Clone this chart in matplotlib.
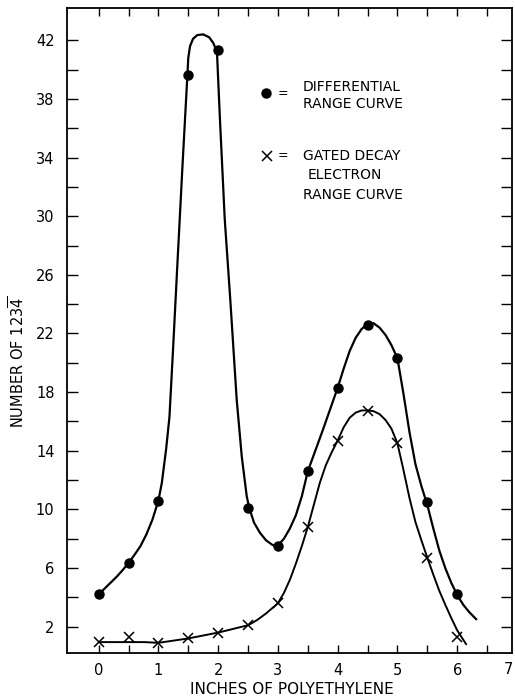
import matplotlib
matplotlib.use('Agg')
import matplotlib.pyplot as plt
import numpy as np

plt.rcParams['font.family'] = ['DejaVu Sans']
plt.rcParams['mathtext.default'] = 'regular'

inches = [0, 0.5, 1, 1.5, 2, 2.5, 3, 3.5, 4, 4.5, 5, 5.5, 6]
diff_counts = [4.2, 6.35, 10.6, 39.6, 41.3, 10.1, 7.5, 12.6, 18.3, 22.6, 20.3, 10.5, 4.2]
gated_counts = [0.95, 1.3, 0.87, 1.2, 1.6, 2.1, 3.6, 8.8, 14.7, 16.7, 14.5, 6.7, 1.3]

# hand drawn curves
diff_curve_x = [0.0, 0.1, 0.2, 0.3, 0.4, 0.5, 0.6, 0.7, 0.8, 0.9, 1.0, 1.057, 1.129, 1.185,
                1.245, 1.315, 1.40, 1.485, 1.50, 1.53, 1.58, 1.65, 1.75, 1.85, 1.92, 1.98,
                2.03, 2.11, 2.203, 2.31, 2.395, 2.478, 2.52, 2.6, 2.7, 2.8, 2.9, 2.98,
                3.1, 3.2, 3.3, 3.4, 3.5, 3.75, 4.0, 4.1, 4.2, 4.3, 4.4, 4.5, 4.6, 4.7, 4.8,
                4.9, 5.0, 5.1, 5.2, 5.3, 5.4, 5.5, 5.6, 5.7, 5.8, 5.9, 6.0, 6.1, 6.2, 6.32]
diff_curve_y = [4.2, 4.6, 5.0, 5.4, 5.85, 6.35, 6.9, 7.5, 8.3, 9.3, 10.6, 11.8, 14.1, 16.3,
                20.9, 26.5, 33.2, 39.6, 40.8, 41.6, 42.1, 42.35, 42.4, 42.2, 41.8, 41.2,
                36.6, 29.8, 24.3, 17.5, 13.6, 10.9, 10.1, 9.1, 8.4, 7.9, 7.6, 7.45,
                8.0, 8.7, 9.6, 10.9, 12.6, 15.4, 18.3, 19.6, 20.8, 21.7, 22.3, 22.65, 22.7,
                22.4, 21.9, 21.2, 20.3, 17.9, 15.3, 13.1, 11.6, 10.3, 8.7, 7.2, 6.0, 5.0,
                4.16, 3.5, 3.0, 2.5]

gated_curve_x = [0.0, 0.77, 1.0, 1.25, 1.5, 1.75, 2.0, 2.25, 2.5, 2.65, 2.8, 2.9, 3.0, 3.1,
                 3.2, 3.3, 3.4, 3.5, 3.6, 3.7, 3.8, 3.9, 4.0, 4.1, 4.2, 4.3, 4.4, 4.5, 4.6,
                 4.7, 4.8, 4.9, 5.0, 5.1, 5.2, 5.3, 5.4, 5.5, 5.6, 5.7, 5.8, 5.9, 6.0, 6.15]
gated_curve_y = [0.95, 0.95, 0.9, 1.05, 1.2, 1.4, 1.6, 1.85, 2.1, 2.45, 2.9, 3.25, 3.6, 4.3,
                 5.2, 6.3, 7.5, 8.8, 10.3, 11.8, 13.0, 13.9, 14.7, 15.6, 16.25, 16.6, 16.75,
                 16.75, 16.7, 16.5, 16.1, 15.5, 14.5, 12.7, 10.8, 9.15, 7.9, 6.7, 5.55, 4.45,
                 3.5, 2.6, 1.75, 0.8]

fig = plt.figure(figsize=(5.15, 7.0), dpi=100)
ax = fig.add_axes([0.130, 0.067, 0.864, 0.9216])

ax.plot(diff_curve_x, diff_curve_y, color='black', linewidth=1.6,
        solid_capstyle='round', solid_joinstyle='round')
ax.plot(gated_curve_x, gated_curve_y, color='black', linewidth=1.4,
        solid_capstyle='round', solid_joinstyle='round')
ax.plot(inches, diff_counts, linestyle='none', marker='o', markersize=6.5, color='black')
ax.plot(inches, gated_counts, linestyle='none', marker='x', markersize=7, markeredgewidth=1.1,
        color='black')

ax.set_xlim(-0.53, 6.915)
ax.set_ylim(0.2, 44.2)

# ticks on all four sides, pointing in
ax.set_xticks(range(0, 7))
ax.set_xticks(np.arange(0.5, 7, 1.0), minor=True)
ax.set_yticks(range(2, 43, 4))
ax.set_yticks(range(4, 41, 4), minor=True)

ax.tick_params(which='both', direction='in', top=True, right=True, width=1.0, length=6,
               labelsize=10.5)
ax.tick_params(axis='y', which='both', length=8, pad=9)
ax.tick_params(axis='x', which='both', pad=7)

# the 7 sits at the very edge of the scan
ax.text(6.85, -0.014, '7', transform=ax.get_xaxis_transform(), ha='center', va='top',
        fontsize=10.5, clip_on=False)

for side in ['left', 'right', 'top', 'bottom']:
    ax.spines[side].set_linewidth(1.3)

# legend drawn by hand like the original
ax.plot([0.447], [0.868], marker='o', markersize=6.5, color='black', transform=ax.transAxes)
ax.text(0.485, 0.868, '=', transform=ax.transAxes, ha='center', va='center', fontsize=9)
ax.text(0.530, 0.8775, 'DIFFERENTIAL', transform=ax.transAxes, va='center', fontsize=10)
ax.text(0.530, 0.851, 'RANGE CURVE', transform=ax.transAxes, va='center', fontsize=10)

ax.plot([0.449], [0.7705], marker='x', markersize=7, markeredgewidth=1.1, color='black',
        transform=ax.transAxes)
ax.text(0.485, 0.772, '=', transform=ax.transAxes, ha='center', va='center', fontsize=9)
ax.text(0.530, 0.7705, 'GATED DECAY', transform=ax.transAxes, va='center', fontsize=10)
ax.text(0.542, 0.741, 'ELECTRON', transform=ax.transAxes, va='center', fontsize=10)
ax.text(0.530, 0.710, 'RANGE CURVE', transform=ax.transAxes, va='center', fontsize=10)

# axis titles
fig.text(18 / 515, 1 - 362 / 700, r'NUMBER OF 123$\overline{4}$', rotation=90,
         ha='center', va='center', fontsize=10.5)
fig.text(291.7 / 515, 1 - 689 / 700, 'INCHES OF POLYETHYLENE', ha='center', va='center',
         fontsize=11)

plt.savefig('out.png', dpi=100)
plt.close()
